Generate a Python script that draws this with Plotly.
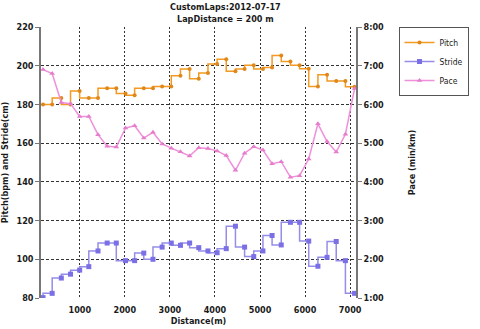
import plotly.graph_objects as go

# Data
distance_m = [185, 388, 591, 795, 998, 1201, 1405, 1608, 1811, 2015, 2218, 2421,
              2625, 2828, 3031, 3235, 3438, 3641, 3845, 4048, 4251, 4455, 4658,
              4861, 5065, 5268, 5471, 5675, 5878, 6081, 6285, 6488, 6691, 6895, 7098]
pitch_bpm = [180, 180, 183.3, 180, 187, 183.3, 183.3, 188.4, 188.4, 185.7, 184.8, 188.4,
             188.4, 189.3, 189.3, 194.8, 198.3, 193.3, 196.2, 200.9, 203.4, 197.1, 198.3,
             200.2, 198.3, 199.1, 205.3, 202.2, 200.2, 198.4, 189.3, 195.3, 192.1, 192.1, 189.1]
stride_cm = [80.2, 82.4, 90.3, 92.3, 94.4, 96.2, 104.3, 108.4, 108.4, 99.3, 99.3, 103.2,
             100.0, 106.3, 108.4, 107.2, 108.4, 106.0, 104.3, 103.4, 105.5, 117.1, 106.3,
             101.4, 104.3, 112.3, 107.4, 119.1, 119.1, 109.4, 96.4, 101.0, 109.2, 99.3, 82.4]
pace_min = [6.90, 6.80, 6.05, 6.02, 5.69, 5.69, 5.22, 4.92, 4.90, 5.39, 5.45, 5.13,
            5.28, 4.98, 4.87, 4.78, 4.67, 4.88, 4.86, 4.80, 4.68, 4.30, 4.74,
            4.91, 4.82, 4.47, 4.52, 4.12, 4.16, 4.59, 5.50, 5.04, 4.77, 5.23, 6.41]

left_ticks = [80, 100, 120, 140, 160, 180, 200, 220]
pace_ticks = [1, 2, 3, 4, 5, 6, 7, 8]
pace_labels = ["1:00", "2:00", "3:00", "4:00", "5:00", "6:00", "7:00", "8:00"]
x_ticks = [1000, 2000, 3000, 4000, 5000, 6000, 7000]

FONT = "DejaVu Sans Condensed, DejaVu Sans, sans-serif"
TXT = "#1a1a1a"

fig = go.Figure()
fig.add_trace(go.Scatter(
    x=distance_m, y=pitch_bpm, name="Pitch", mode="lines+markers",
    line=dict(color="#f29a22", width=1.5, shape="vh"),
    marker=dict(symbol="circle", size=4, color="#e0871a"),
))
fig.add_trace(go.Scatter(
    x=distance_m, y=stride_cm, name="Stride", mode="lines+markers",
    line=dict(color="#958de8", width=1.5, shape="vh"),
    marker=dict(symbol="square", size=5, color="#7b6fe6"),
))
fig.add_trace(go.Scatter(
    x=distance_m, y=pace_min, name="Pace", mode="lines+markers", yaxis="y2",
    line=dict(color="#f08fda", width=1.5),
    marker=dict(symbol="triangle-up", size=5, color="#e57ccc"),
))

fig.add_annotation(
    text="<b>CustomLaps:2012-07-17<br>LapDistance = 200 m</b>",
    xref="paper", yref="paper", x=0.585, y=1.097, xanchor="center", yanchor="top",
    showarrow=False, borderpad=0, font=dict(family=FONT, size=9, color=TXT),
)

fig.update_layout(
    width=480, height=329,
    margin=dict(l=41, r=99, t=27, b=31),
    paper_bgcolor="white", plot_bgcolor="white",
    font=dict(family=FONT, size=9, color=TXT),
    showlegend=True,
    legend=dict(x=1.135, y=1.0, xanchor="left", yanchor="top",
                bordercolor="#555", borderwidth=1, bgcolor="white",
                font=dict(family=FONT, size=8.5, color=TXT),
                tracegroupgap=0, itemwidth=30),
    xaxis=dict(range=[140, 7130], tickvals=x_ticks, ticktext=[f"<b>{v}</b>" for v in x_ticks],
               showgrid=True, gridcolor="#333", griddash="2px,2px", gridwidth=1,
               zeroline=False, showline=False, ticks="outside", ticklen=3,
               tickcolor="rgba(0,0,0,0)", automargin=False,
               title=dict(text="<b>Distance(m)</b>", standoff=3, font=dict(size=9))),
    yaxis=dict(range=[80, 220], tickvals=left_ticks, ticktext=[f"<b>{v}</b>" for v in left_ticks],
               showgrid=True, gridcolor="#333", griddash="3px,2px", gridwidth=1,
               zeroline=False, showline=True, linecolor="#777", linewidth=1.5,
               ticks="outside", ticklen=4, tickcolor="#777", automargin=False,
               title=dict(text="<b>Pitch(bpm) and Stride(cm)</b>", standoff=7, font=dict(size=9))),
    yaxis2=dict(range=[1, 8], overlaying="y", side="right", tickvals=pace_ticks,
                ticktext=[f"<b>{t}</b>" for t in pace_labels],
                showgrid=False, zeroline=False, showline=True, linecolor="#777", linewidth=1.5,
                ticks="outside", ticklen=4, tickcolor="#777", automargin=False,
                title=dict(text="<b>Pace (min/km)</b>", standoff=26, font=dict(size=9))),
)

fig.write_html("out.html")
